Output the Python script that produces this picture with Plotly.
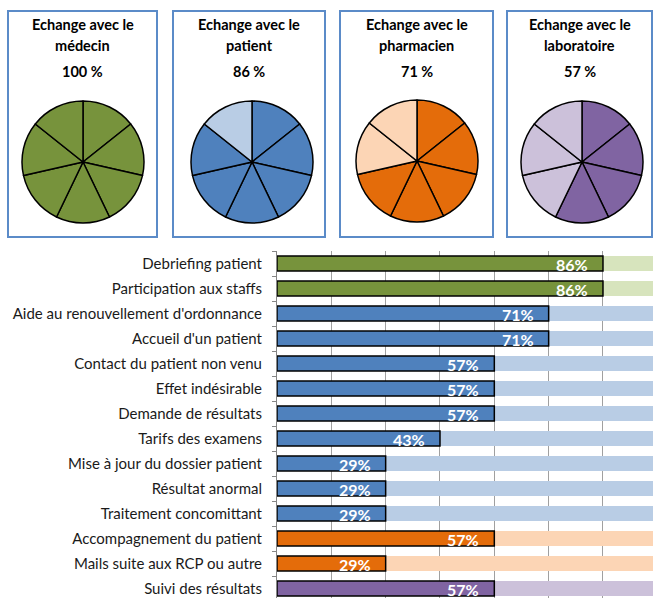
import plotly.graph_objects as go

W, H = 653, 598

# ---- data ----
categories = [
    "Debriefing patient",
    "Participation aux staffs",
    "Aide au renouvellement d'ordonnance",
    "Accueil d'un patient",
    "Contact du patient non venu",
    "Effet indésirable",
    "Demande de résultats",
    "Tarifs des examens",
    "Mise à jour du dossier patient",
    "Résultat anormal",
    "Traitement concomittant",
    "Accompagnement du patient",
    "Mails suite aux RCP ou autre",
    "Suivi des résultats",
]
counts = [6, 6, 5, 5, 4, 4, 4, 3, 2, 2, 2, 4, 2, 4]   # respondents out of 7
groups = ["médecin", "médecin",
          "patient", "patient", "patient", "patient", "patient",
          "patient", "patient", "patient", "patient",
          "pharmacien", "pharmacien",
          "laboratoire"]
total = 7

panel_groups = ["médecin", "patient", "pharmacien", "laboratoire"]
panel_line1 = ["Echange avec le"] * 4
panel_line2 = ["médecin", "patient", "pharmacien", "laboratoire"]
panel_counts = [7, 6, 5, 4]

dark = {"médecin": "#77933C", "patient": "#4F81BD",
        "pharmacien": "#E46C0A", "laboratoire": "#8064A2"}
light = {"médecin": "#D7E4BD", "patient": "#B9CDE5",
         "pharmacien": "#FCD5B5", "laboratoire": "#CCC1DA"}

FONT = "Lato"

fig = go.Figure()

# ---- bar chart ----
fig.add_trace(go.Bar(
    y=categories, x=[total] * len(categories), orientation="h",
    marker=dict(color=[light[g] for g in groups], line=dict(width=0)),
    width=0.6, hoverinfo="skip", showlegend=False,
))
fig.add_trace(go.Bar(
    y=categories, x=counts, orientation="h",
    marker=dict(color=[dark[g] for g in groups], line=dict(color="black", width=1.5)),
    width=0.6, showlegend=False,
))

annotations = []
for cat, c in zip(categories, counts):
    annotations.append(dict(
        x=c, y=cat, xref="x", yref="y", text=f"{round(100 * c / total)}%",
        showarrow=False, xanchor="right", yanchor="middle", xshift=-13, yshift=-1,
        font=dict(family=FONT, size=16, color="white", weight="bold"),
    ))

# ---- pie panels ----
pie_centers = [(83, 162), (252, 162), (417, 161), (582, 162)]
pie_r = 61
panels = [(8, 11, 157, 237), (173, 11, 325, 237), (340, 11, 493, 237), (507, 11, 652, 237)]

shapes = []
for i, g in enumerate(panel_groups):
    cx, cy = pie_centers[i]
    n = panel_counts[i]
    fig.add_trace(go.Pie(
        values=[1] * total,
        marker=dict(colors=[dark[g] if k < n else light[g] for k in range(total)],
                    line=dict(color="black", width=1.5)),
        sort=False, direction="clockwise", rotation=0,
        textinfo="none", hoverinfo="skip", showlegend=False,
        domain=dict(x=[(cx - pie_r) / W, (cx + pie_r) / W],
                    y=[(H - cy - pie_r) / H, (H - cy + pie_r) / H]),
    ))
    x0, y0, x1, y1 = panels[i]
    shapes.append(dict(type="rect", xref="paper", yref="paper",
                       x0=x0 / W, x1=x1 / W, y0=1 - y0 / H, y1=1 - y1 / H,
                       line=dict(color="#5B8BC8", width=2), fillcolor="rgba(0,0,0,0)"))
    pcx = (x0 + x1) / 2
    for txt, ty in [(panel_line1[i], 25), (panel_line2[i], 46),
                    (f"{round(100 * n / total)} %", 71)]:
        annotations.append(dict(
            x=pcx / W, y=1 - ty / H, xref="paper", yref="paper", text=txt,
            showarrow=False, xanchor="center", yanchor="middle",
            font=dict(family=FONT, size=14.5, color="black", weight="bold"),
        ))

plot_left, plot_top = 277, 251
pitch = 25
x_unit = 54.33

fig.update_layout(
    width=W, height=H, template="none",
    margin=dict(l=0, r=0, t=0, b=0),
    paper_bgcolor="white", plot_bgcolor="white",
    barmode="overlay",
    font=dict(family=FONT, color="#1a1a1a"),
    shapes=shapes, annotations=annotations,
    xaxis=dict(domain=[plot_left / W, 1], range=[0, (W - plot_left) / x_unit],
               dtick=1, tick0=0, showgrid=True, gridcolor="#A0A0A0", gridwidth=1,
               showticklabels=False, zeroline=False, showline=False, ticks="",
               automargin=False, fixedrange=True),
    yaxis=dict(domain=[0, (H - plot_top) / H], type="category",
               categoryorder="array", categoryarray=categories,
               range=[-0.5 + (H - plot_top) / pitch, -0.5],
               showgrid=False, zeroline=False, showline=True, linecolor="#868686",
               linewidth=1, ticks="outside", ticklen=4, tickcolor="#868686",
               tickson="boundaries", ticklabelstandoff=11,
               tickfont=dict(family=FONT, size=15, color="#1a1a1a"),
               automargin=False, fixedrange=True),
)

fig.write_html(
    "out.html",
    config={"displayModeBar": False},
    post_script="document.body.style.margin='0';document.body.style.overflow='hidden';",
)
